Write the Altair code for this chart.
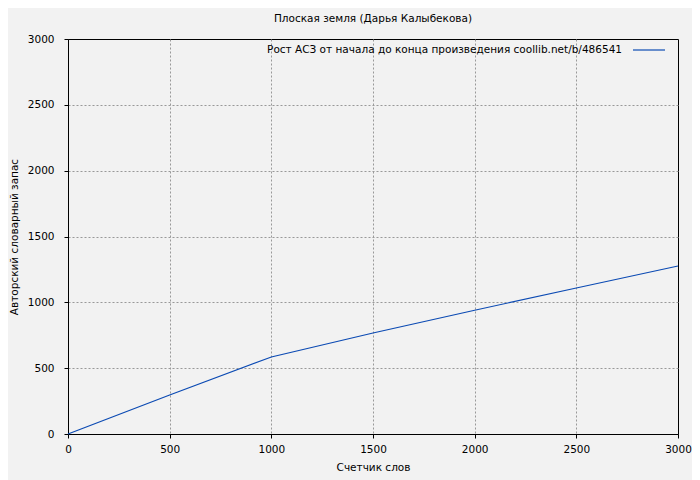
import altair as alt
import pandas as pd

series_name = "Рост АСЗ от начала до конца произведения  coollib.net/b/486541"
words = [0, 500, 1000, 1500, 2000, 2500, 3000]
vocab = [0, 296, 585, 767, 940, 1109, 1276]
tick_values = [0, 500, 1000, 1500, 2000, 2500, 3000]

df = pd.DataFrame({"x": words, "y": vocab})
leg = pd.DataFrame({"s": [series_name]})

FONT = "DejaVu Sans"
FS = 10.5
LINE_COLOR = "#0b4ab3"
hide_edge = {"condition": {"test": "datum.value >= 3000 || datum.value <= 0", "value": 0}, "value": 1}

line = alt.Chart(df).mark_line(strokeWidth=1.2, color=LINE_COLOR).encode(
    x=alt.X("x:Q", scale=alt.Scale(domain=[0, 3000], nice=False),
            axis=alt.Axis(title="Счетчик слов", values=tick_values, format="d", labelFlush=False,
                          labelPadding=6, titlePadding=8, gridOpacity=hide_edge)),
    y=alt.Y("y:Q", scale=alt.Scale(domain=[0, 3000], nice=False),
            axis=alt.Axis(title="Авторский словарный запас", values=tick_values, format="d",
                          labelFlush=False,
                          labelPadding=10, titleX=-54, titleY=197.5, titleAngle=-90,
                          titleAlign="center", titleBaseline="middle", gridOpacity=hide_edge)),
)

leg_text = alt.Chart(leg).mark_text(align="right", baseline="middle", font=FONT,
                                    fontSize=FS, color="#000").encode(
    text="s:N", x=alt.value(554), y=alt.value(11))
leg_rule = alt.Chart(leg).mark_rule(color=LINE_COLOR, strokeWidth=1.2).encode(
    x=alt.value(565), x2=alt.value(597), y=alt.value(11))

chart = alt.layer(line, leg_text, leg_rule).properties(
    width=610, height=395,
    title=alt.TitleParams("Плоская земля (Дарья Калыбекова)", font=FONT, fontSize=FS,
                          fontWeight="normal", color="#000", offset=10),
    background="#f2f2f2",
    padding={"left": 60, "top": 31, "right": 14, "bottom": 46},
    autosize=alt.AutoSizeParams(type="none"),
).configure_view(stroke="#000", strokeWidth=1).configure_axis(
    labelFont=FONT, titleFont=FONT, labelFontSize=FS, titleFontSize=FS,
    titleFontWeight="normal", labelColor="#000", titleColor="#000",
    domainColor="#000", tickColor="#000", tickSize=4,
    gridColor="#999", gridDash=[2, 2], gridWidth=1,
)

chart.save("out.html", embed_options={"renderer": "svg", "actions": False})
